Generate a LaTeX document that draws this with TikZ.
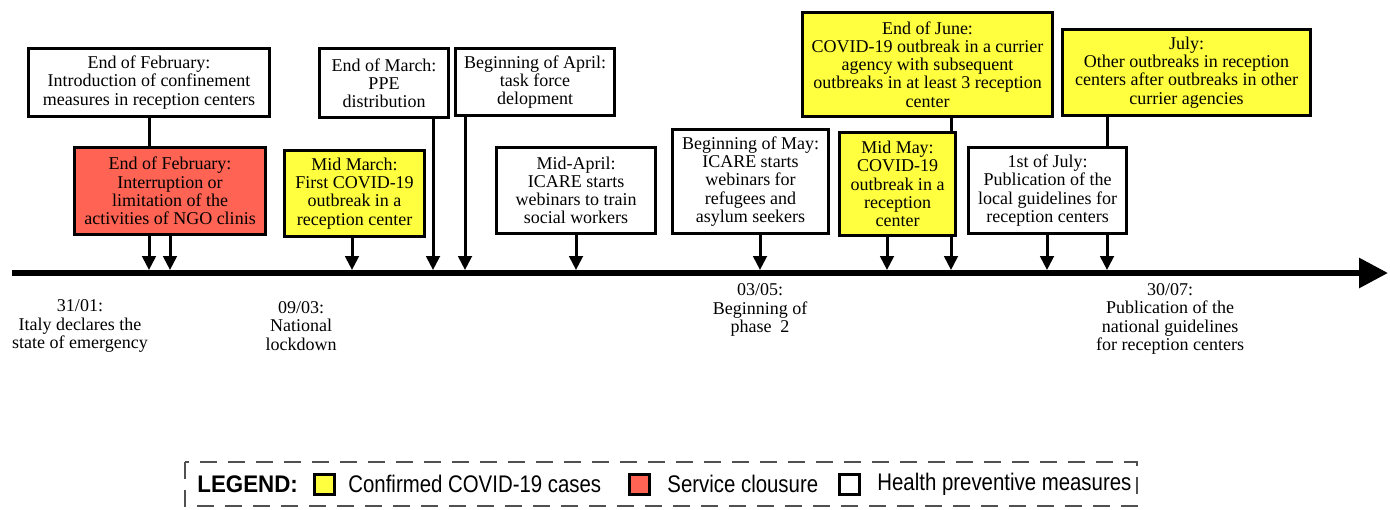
\documentclass[tikz,border=0pt]{standalone}
\usepackage{fontspec}
\setmainfont{Liberation Serif}
\newfontfamily\legfont[FakeStretch=0.85]{Liberation Sans}
\newfontfamily\legboldfont[FakeStretch=0.93]{Liberation Sans}
\usetikzlibrary{arrows.meta,backgrounds}
\definecolor{covid}{HTML}{FFFF40}
\definecolor{closure}{HTML}{FF6353}
\definecolor{dashgray}{HTML}{505050}
\tikzset{
  evbox/.style n args={2}{draw=black, line width=1.5pt, align=center, inner sep=0pt,
    minimum width={(#1-3)*0.5pt}, minimum height={(#2-3)*0.5pt},
    font=\fontsize{9pt}{9.1pt}\selectfont},
  yel/.style={fill=covid},
  red/.style={fill=closure},
  wht/.style={fill=white},
  evarrow/.style={line width=1.5pt, -{Triangle[length=7pt,width=6.8pt]}},
  timeline/.style={line width=3pt, -{Triangle[length=14.5pt,width=14.5pt]}},
  datelbl/.style={align=center, inner sep=0pt, font=\fontsize{9pt}{9.1pt}\selectfont},
  legsq/.style={draw=black, line width=1.5pt, minimum size=10pt, inner sep=0pt},
  legtxt/.style={anchor=west, inner sep=0pt, font=\legfont\fontsize{12pt}{13pt}\selectfont},
}
\begin{document}
\begin{tikzpicture}[x=0.5pt,y=-0.5pt]
\useasboundingbox (0,0) rectangle (1390,509);

% boxes
\node[evbox={244}{71}, wht] (A) at (149,82.5) {End of February:\\Introduction of confinement\\measures in reception centers};
\node[evbox={194}{90}, red] (B) at (170,191) {End of February:\\Interruption or\\limitation of the\\activities of NGO clinis};
\node[evbox={143}{89}, yel] (C) at (354.5,193.5) {Mid March:\\First COVID-19\\outbreak in a\\reception center};
\node[evbox={132}{72}, wht] (D) at (384,83) {End of March:\\PPE\\distribution};
\node[evbox={162}{70}, wht] (E) at (535,82) {Beginning of April:\\task force\\delopment};
\node[evbox={162}{89}, wht] (F) at (576,190.5) {Mid-April:\\ICARE starts\\webinars to train\\social workers};
\node[evbox={159}{107}, wht] (G) at (750.5,181.5) {Beginning of May:\\ICARE starts\\webinars for\\refugees and\\asylum seekers};
\node[evbox={253}{107}, yel] (H) at (927.5,64.5) {End of June:\\COVID-19 outbreak in a currier\\agency with subsequent\\outbreaks in at least 3 reception\\center};
\node[evbox={119}{106}, yel] (I) at (897.5,184) {Mid May:\\COVID-19\\outbreak in a\\reception\\center};
\node[evbox={251}{89}, yel] (J) at (1186.5,72.5) {July:\\Other outbreaks in reception\\centers after outbreaks in other\\currier agencies};
\node[evbox={161}{89}, wht] (K) at (1047.5,190.5) {1st of July:\\Publication of the\\local guidelines for\\reception centers};

% timeline
\coordinate (tlS) at (12,273);
\coordinate (tlE) at (1388,273);
\foreach \n/\x in {A/149,B/170,C/352,D/433,E/465,F/576,G/760,I/887,H/951,K/1047,J/1107}
  \coordinate (t\n) at (\x,270);

\begin{scope}[on background layer]
  \draw[evarrow] (A.south -| tA) -- (tA);
  \draw[evarrow] (B.south -| tB) -- (tB);
  \draw[evarrow] (C.south -| tC) -- (tC);
  \draw[evarrow] (D.south -| tD) -- (tD);
  \draw[evarrow] (E.south -| tE) -- (tE);
  \draw[evarrow] (F.south -| tF) -- (tF);
  \draw[evarrow] (G.south -| tG) -- (tG);
  \draw[evarrow] (I.south -| tI) -- (tI);
  \draw[evarrow] (H.south -| tH) -- (tH);
  \draw[evarrow] (K.south -| tK) -- (tK);
  \draw[evarrow] (J.south -| tJ) -- (tJ);
\end{scope}
\draw[timeline] (tlS) -- (tlE);

% date labels
\node[datelbl] (d1) at (80,326) {31/01:\\Italy declares the\\state of emergency};
\node[datelbl] (d2) at (301,326) {09/03:\\National\\lockdown};
\node[datelbl] (d3) at (760,310) {03/05:\\Beginning of\\phase\ \ 2};
\node[datelbl] (d4) at (1170,319) {30/07:\\Publication of the\\national guidelines\\for reception centers};

% legend
\draw[dashgray, line width=1.4pt, dash pattern=on 8.5pt off 5.5pt] (185,462) rectangle (1137,506);
\node[legtxt, font=\legboldfont\bfseries\fontsize{12pt}{13pt}\selectfont] (lg) at (197,484) {LEGEND:};
\node[legsq, fill=covid] (sq1) at (324.5,484) {};
\node[legtxt] (l1) at (348,484) {Confirmed COVID-19 cases};
\node[legsq, fill=closure] (sq2) at (639.5,484) {};
\node[legtxt] (l2) at (667,484) {Service clousure};
\node[legsq, fill=white] (sq3) at (849,484) {};
\node[legtxt] (l3) at (877,484) {Health preventive measures};
\end{tikzpicture}
\end{document}
